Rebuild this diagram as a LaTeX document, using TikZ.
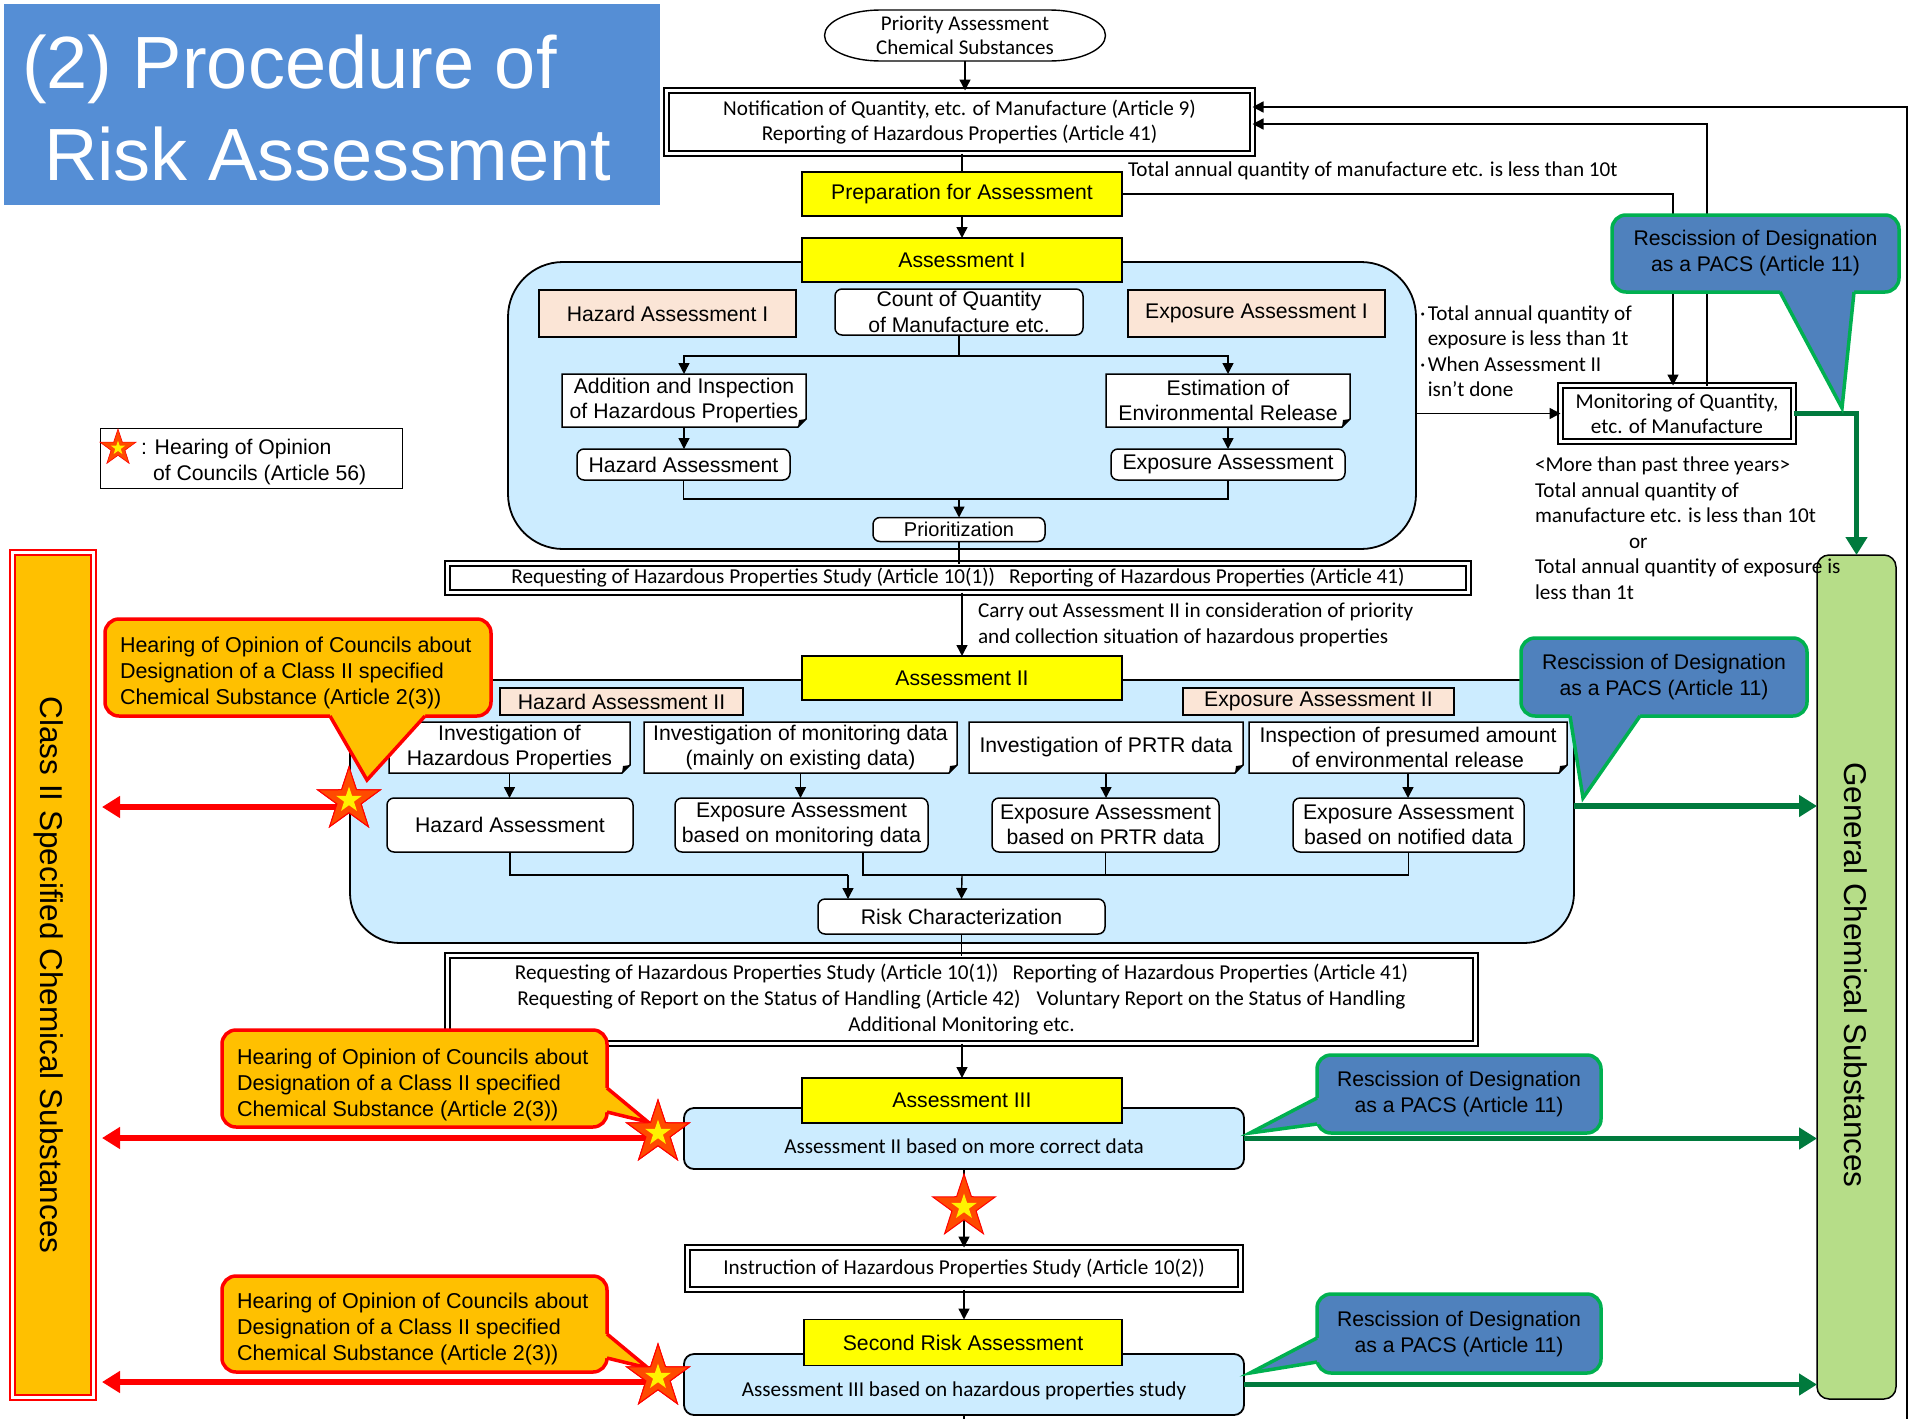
\documentclass[tikz,border=0pt]{standalone}
\usepackage{fontspec}
\setmainfont{Carlito}
\newfontfamily\arial{Liberation Sans}
\usetikzlibrary{arrows.meta,shapes.geometric}

\definecolor{titleblue}{HTML}{558ED5}
\definecolor{regblue}{HTML}{CCECFF}
\definecolor{peachc}{HTML}{FBE5D6}
\definecolor{yel}{HTML}{FFFF00}
\definecolor{orangec}{HTML}{FFC000}
\definecolor{cblue}{HTML}{4F81BD}
\definecolor{cgreen}{HTML}{00B050}
\definecolor{dgreen}{HTML}{007A3D}
\definecolor{gcsgreen}{HTML}{B6DD88}
\definecolor{starc}{HTML}{FF4A00}

\begin{document}
\begin{tikzpicture}[x=1pt,y=-1pt,
  every node/.style={inner sep=0pt,outer sep=0pt},
  cal/.style={font=\fontsize{21.2}{25.5}\selectfont},
  ari/.style={font=\arial\fontsize{21.2}{25.6}\selectfont},
  ybox/.style={draw,line width=1.5pt,fill=yel,minimum width=320pt,minimum height=44pt,ari},
  pbox/.style={draw,line width=1.5pt,fill=peachc,ari},
  rbox/.style={draw,line width=1.5pt,fill=white,rounded corners=7pt,align=center,ari},
  notebox/.style={fill=white,align=center,ari},
  dbox/.style={draw,double,double distance=3pt,line width=2pt,fill=white,align=center,cal},
  region/.style={draw,line width=1.8pt,fill=regblue},
  lbox/.style={draw,line width=1.8pt,fill=regblue,rounded corners=10pt,minimum width=560pt,minimum height=61pt},
  ln/.style={line width=1.4pt},
  arr/.style={line width=1.4pt,-{Triangle[length=11pt,width=11pt]}},
  redarr/.style={draw=red,line width=6pt,-{Triangle[length=18pt,width=21pt]}},
  grarr/.style={draw=dgreen,line width=5.5pt,-{Triangle[length=18pt,width=21pt]}},
  ocall/.style={draw=red,line width=3.5pt,fill=orangec,rounded corners=14pt},
  otext/.style={font=\arial\fontsize{21.5}{25.6}\selectfont,align=left,anchor=west},
  bcall/.style={draw=cgreen,line width=3.5pt,fill=cblue,rounded corners=14pt,align=center,
    font=\arial\fontsize{21.2}{26}\selectfont},
  owedge/.style={fill=orangec},
  oedge/.style={draw=red,line width=3.5pt,line join=miter},
  bwedge/.style={fill=cblue},
  bedge/.style={draw=cgreen,line width=3.5pt,line join=miter},
  bigstar/.style={star,star points=5,star point ratio=2.6,fill=starc,draw=red,line width=1pt,minimum size=66pt},
  smallstar/.style={star,star points=5,star point ratio=2.6,fill=yellow,minimum size=27pt},
]
\useasboundingbox (0,0) rectangle (1912,1419);

% ---------- title ----------
\node[fill=titleblue,minimum width=656pt,minimum height=201pt] (title) at (332,104.5) {};
\node[anchor=base west,text=white,font=\arial\fontsize{74}{80}\selectfont] (titleA) at (22,88) {(2) Procedure of};
\node[anchor=base west,text=white,font=\arial\fontsize{74}{80}\selectfont] (titleB) at (44,180) {Risk Assessment};

% ---------- legend ----------
\node[draw,line width=1pt,minimum width=302pt,minimum height=60pt] (legend) at (251,458) {};
\node[bigstar,minimum size=38pt,line width=0.6pt] (legstar) at (118,448) {};
\node[smallstar,minimum size=15pt] (legstarin) at (legstar.center) {};
\node[ari,anchor=west,align=left] (legtext) at (141,462) {: Hearing of Opinion\\\hspace*{12pt}of Councils (Article 56)};

% ---------- side bands ----------
\node[fill=orangec,draw=red,line width=2pt,minimum width=76pt,minimum height=840pt] (cls) at (53,975) {};
\draw[red,line width=2pt] ([shift={(-5pt,5pt)}]cls.north west) rectangle ([shift={(5pt,-5pt)}]cls.south east);
\node[rotate=-90,font=\arial\fontsize{31.5}{34}\selectfont] (clstext) at (49,975) {Class II Specified Chemical Substances};
\node[draw,line width=1.5pt,fill=gcsgreen,rounded corners=12pt,minimum width=79pt,minimum height=844pt] (gcs) at (1856.5,977) {};
\node[rotate=-90,font=\arial\fontsize{31.5}{34}\selectfont] (gcstext) at (1856,975) {General Chemical Substances};

% ---------- top of the flow ----------
\node[align=center,font=\fontsize{21}{24}\selectfont,minimum width=281pt,minimum height=51pt] (prio) at (965,35.5) {Priority Assessment\\Chemical Substances};
\draw[line width=1.4pt] ([xshift=56pt]prio.north west) -- ([xshift=-56pt]prio.north east)
  arc[start angle=90,end angle=-90,x radius=56pt,y radius=25.5pt]
  -- ([xshift=56pt]prio.south west)
  arc[start angle=270,end angle=90,x radius=56pt,y radius=25.5pt] -- cycle;
\node[dbox,minimum width=586pt,minimum height=63pt] (notif) at (959.5,122) {Notification of Quantity, etc. of Manufacture (Article 9)\\Reporting of Hazardous Properties (Article 41)};
\node[ybox] (prep) at (962,194) {Preparation for Assessment};

% ---------- Assessment I ----------
\node[region,rounded corners=55pt,minimum width=908pt,minimum height=287pt] (reg1) at (962,405.5) {};
\node[ybox] (asI) at (962,260) {Assessment I};
\node[pbox,minimum width=257pt,minimum height=47pt] (hazI) at (667.5,313.5) {Hazard Assessment I};
\node[rbox,minimum width=248pt,minimum height=46pt] (count) at (959,312) {Count of Quantity\\of Manufacture etc.};
\node[pbox,minimum width=257pt,minimum height=47pt] (expI) at (1256.5,313.5) {Exposure Assessment I};
\node[notebox,minimum width=244pt,minimum height=53pt] (addn) at (684,400.5) {Addition and Inspection\\of Hazardous Properties};
\node[notebox,minimum width=244pt,minimum height=53pt] (estn) at (1228,400.5) {Estimation of\\Environmental Release};
\node[rbox,minimum width=213pt,minimum height=31pt] (hazA) at (683.5,464.5) {Hazard Assessment};
\node[rbox,minimum width=234pt,minimum height=31pt] (expA) at (1228,464.5) {Exposure Assessment};
\node[rbox,font=\arial\fontsize{20}{22}\selectfont,minimum width=172pt,minimum height=24pt] (prior) at (959,529.5) {Prioritization};
\coordinate (br1) at (959,356);
\coordinate (j1) at (959,499);

% ---------- monitoring ----------
\node[dbox,minimum width=233pt,minimum height=56pt] (mon) at (1677,413.5) {Monitoring of Quantity,\\etc. of Manufacture};
\node[cal,anchor=west,align=left] (cond1) at (1420,351) {·\hspace{2.5pt}Total annual quantity of\\\phantom{·}\hspace{2.5pt}exposure is less than 1t\\·\hspace{2.5pt}When Assessment II\\\phantom{·}\hspace{2.5pt}isn’t done};
\node[cal,anchor=west,align=left] (cond2) at (1535,528) {<More than past three years>\\Total annual quantity of\\manufacture etc. is less than 10t\\\hspace*{94pt}or\\Total annual quantity of exposure is\\less than 1t};
\node[cal,anchor=west] (lbl10t) at (1128,171) {Total annual quantity of manufacture etc. is less than 10t};

% ---------- request 1 ----------
\node[dbox,minimum width=1021pt,minimum height=29pt] (req1) at (958,578) {Requesting of Hazardous Properties Study (Article 10(1))\hspace{14pt}Reporting of Hazardous Properties (Article 41)};
\node[cal,anchor=west,align=left] (carry) at (978,625) {Carry out Assessment II in consideration of priority\\and collection situation of hazardous properties};

% ---------- Assessment II ----------
\node[region,rounded corners=50pt,minimum width=1224pt,minimum height=263pt] (reg2) at (962,811.5) {};
\node[ybox] (asII) at (962,678) {Assessment II};
\node[pbox,minimum width=243pt,minimum height=27pt] (hazII) at (621.5,701.5) {Hazard Assessment II};
\node[pbox,minimum width=271pt,minimum height=27pt] (expII) at (1318.5,701.5) {Exposure Assessment II};
\node[notebox,minimum width=241pt,minimum height=51pt] (n1) at (509.5,747.5) {Investigation of\\Hazardous Properties};
\node[notebox,minimum width=313pt,minimum height=51pt] (n2) at (800.5,747.5) {Investigation of monitoring data\\(mainly on existing data)};
\node[notebox,minimum width=274pt,minimum height=51pt] (n3) at (1106,747.5) {Investigation of PRTR data};
\node[notebox,minimum width=318pt,minimum height=51pt] (n4) at (1408,747.5) {Inspection of presumed amount\\of environmental release};
\node[rbox,minimum width=246pt,minimum height=54pt] (b1) at (510,825) {Hazard Assessment};
\node[rbox,minimum width=253pt,minimum height=54pt] (b2) at (801.5,825) {Exposure Assessment\\based on monitoring data};
\node[rbox,minimum width=227pt,minimum height=54pt] (b3) at (1105.5,825) {Exposure Assessment\\based on PRTR data};
\node[rbox,minimum width=231pt,minimum height=54pt] (b4) at (1408.5,825) {Exposure Assessment\\based on notified data};
\node[rbox,minimum width=287pt,minimum height=35pt] (risk) at (961.5,916.5) {Risk Characterization};
\coordinate (j2a) at (848,875);
\coordinate (j2b) at (962,875);

% folded corners of the note boxes
\foreach \n in {addn,estn,n1,n2,n3,n4}{
  \fill[regblue] (\n.south east) -- ([yshift=8pt]\n.south east) -- ([xshift=-8pt]\n.south east) -- cycle;
  \draw[line width=1.5pt,line join=miter] (\n.south west) -- (\n.north west) -- (\n.north east)
     -- ([yshift=8pt]\n.south east) -- ([xshift=-8pt]\n.south east) -- cycle;
  \fill ([yshift=8pt]\n.south east) -- ([xshift=-8pt]\n.south east) -- ([shift={(-7pt,7pt)}]\n.south east) -- cycle;
}

% ---------- request 2 ----------
\node[dbox,minimum width=1028pt,minimum height=88pt,font=\fontsize{21.2}{26}\selectfont] (req2) at (961.5,999.5) {Requesting of Hazardous Properties Study (Article 10(1))\hspace{14pt}Reporting of Hazardous Properties (Article 41)\\Requesting of Report on the Status of Handling (Article 42)\hspace{16pt}Voluntary Report on the Status of Handling\\Additional Monitoring etc.};

% ---------- Assessment III ----------
\node[lbox] (box3) at (964,1138.5) {};
\node[cal] (box3txt) at (964,1146) {Assessment II based on more correct data};
\node[ybox,minimum height=45pt] (asIII) at (962,1100.5) {Assessment III};
\node[dbox,minimum width=553pt,minimum height=42pt] (instr) at (964,1268.5) {Instruction of Hazardous Properties Study (Article 10(2))};

% ---------- Second risk assessment ----------
\node[lbox] (box4) at (964,1384.5) {};
\node[cal] (box4txt) at (964,1391) {Assessment III based on hazardous properties study};
\node[ybox,minimum width=318pt,minimum height=46pt] (second) at (963,1342.5) {Second Risk Assessment};
\coordinate (bottomend) at (964,1419);
\coordinate (rtbot) at (1907,1419);

% ---------- black connectors ----------
\draw[arr] (prio.south) -- (prio.south |- notif.north);
\draw[ln] (prep.north |- notif.south) -- (prep.north);
\draw[arr] (prep.south) -- (asI.north);
\draw[ln] (count.south) -- (br1);
\draw[arr] (br1) -| (addn.north);
\draw[arr] (br1) -| (estn.north);
\draw[arr] (addn.south) -- (addn.south |- hazA.north);
\draw[arr] (estn.south) -- (expA.north);
\draw[ln] (hazA.south) |- (j1) -| (expA.south);
\draw[arr] (j1) -- (j1 |- prior.north);
\draw[ln] (prior.south) -- (prior.south |- req1.north);
\draw[arr] (asII.north |- req1.south) -- (asII.north);
\foreach \i in {1,2,3,4}{\draw[arr] (n\i.south) -- (n\i.south |- b\i.north);}
\draw[ln] (b1.south) |- (j2a);
\draw[arr] (j2a) -- (j2a |- risk.north);
\draw[ln] ([xshift=61.5pt]b2.south) |- (j2b) -| (b4.south);
\draw[ln] (b3.south) -- (b3.south |- j2b);
\draw[arr] (j2b) -- (risk.north);
\draw[ln] (risk.south) -- (risk.south |- req2.north);
\draw[arr] (asIII.north |- req2.south) -- (asIII.north);
\draw[arr] (box3.south) -- (instr.north);
\draw[arr] (instr.south) -- (instr.south |- second.north);
\draw[ln] (box4.south) -- (bottomend);

\draw[arr] (reg1.east |- mon.west) -- (mon.west);
\draw[arr] (prep.east) -| ([xshift=-4pt]mon.north);
\draw[arr] ([xshift=30pt]mon.north) |- ([yshift=-2pt]notif.east);
\draw[arr] (rtbot) |- ([yshift=15pt]notif.east);

% ---------- thick exits ----------
\draw[grarr] (mon.east) -| (gcs.north);
\draw[grarr] ([yshift=5.5pt]reg2.east) -- ([yshift=5.5pt]reg2.east -| gcs.west);
\draw[grarr] (box3.east) -- (box3.east -| gcs.west);
\draw[grarr] (box4.east) -- (box4.east -| gcs.west);

% ---------- rescission callouts ----------
\node[bcall,minimum width=287pt,minimum height=77pt] (resc1) at (1755.5,253.5) {Rescission of Designation\\as a PACS (Article 11)};
\fill[bwedge] (1780,287) -- (1780,292) -- (1842,408) -- (1854,292) -- (1854,287) -- cycle;
\draw[bedge] (1780,292) -- (1842,408) -- (1854,292);
\node[bcall,minimum width=286pt,minimum height=78pt] (resc2) at (1664,677) {Rescission of Designation\\as a PACS (Article 11)};
\fill[bwedge] (1570,711) -- (1570,716) -- (1583,798) -- (1640,716) -- (1640,711) -- cycle;
\draw[bedge] (1570,716) -- (1583,798) -- (1640,716);
\node[bcall,minimum width=284pt,minimum height=78pt] (resc3) at (1459,1094) {Rescission of Designation\\as a PACS (Article 11)};
\fill[bwedge] (1322,1098) -- (1317,1098) -- (1250,1133) -- (1317,1124) -- (1322,1124) -- cycle;
\draw[bedge] (1317,1098) -- (1250,1133) -- (1317,1124);
\node[bcall,minimum width=284pt,minimum height=79pt] (resc4) at (1459,1333.5) {Rescission of Designation\\as a PACS (Article 11)};
\fill[bwedge] (1322,1338) -- (1317,1338) -- (1250,1373) -- (1317,1362) -- (1322,1362) -- cycle;
\draw[bedge] (1317,1338) -- (1250,1373) -- (1317,1362);

% ---------- hearing callouts and stars ----------
\node[bigstar] (starA) at (349,800) {};
\node[bigstar] (starB) at (658,1133) {};
\node[bigstar] (starC) at (658,1377) {};
\draw[redarr] ([yshift=-7pt]starA.center) -- ([xshift=11pt,yshift=-7pt]starA.center -| cls.east);
\draw[redarr] ([yshift=-5pt]starB.center) -- ([xshift=11pt,yshift=-5pt]starB.center -| cls.east);
\draw[redarr] ([yshift=-5pt]starC.center) -- ([xshift=11pt,yshift=-5pt]starC.center -| cls.east);

\node[ocall,minimum width=386pt,minimum height=97pt] (hearA) at (298,667.5) {};
\fill[owedge] (330,711) -- (330,716) -- (367,780) -- (425,716) -- (425,711) -- cycle;
\draw[oedge] (330,716) -- (367,780) -- (425,716);
\node[otext] (hearAtxt) at (120,673) {Hearing of Opinion of Councils about\\Designation of a Class II specified\\Chemical Substance (Article 2(3))};
\node[ocall,minimum width=385pt,minimum height=97pt] (hearB) at (414.5,1078.5) {};
\fill[owedge] (602,1088) -- (607,1088) -- (648,1122) -- (607,1112) -- (602,1112) -- cycle;
\draw[oedge] (607,1088) -- (648,1122) -- (607,1112);
\node[otext] (hearBtxt) at (237,1085) {Hearing of Opinion of Councils about\\Designation of a Class II specified\\Chemical Substance (Article 2(3))};
\node[ocall,minimum width=385pt,minimum height=96pt] (hearC) at (414.5,1324) {};
\fill[owedge] (602,1334) -- (607,1334) -- (648,1368) -- (607,1358) -- (602,1358) -- cycle;
\draw[oedge] (607,1334) -- (648,1368) -- (607,1358);
\node[otext] (hearCtxt) at (237,1329) {Hearing of Opinion of Councils about\\Designation of a Class II specified\\Chemical Substance (Article 2(3))};

\foreach \s in {starA,starB,starC}{
  \node[bigstar] at (\s.center) {};
  \node[smallstar] at (\s.center) {};
}
\node[bigstar] (starM) at (964,1207) {};
\node[smallstar] (starMin) at (starM.center) {};
\end{tikzpicture}
\end{document}
